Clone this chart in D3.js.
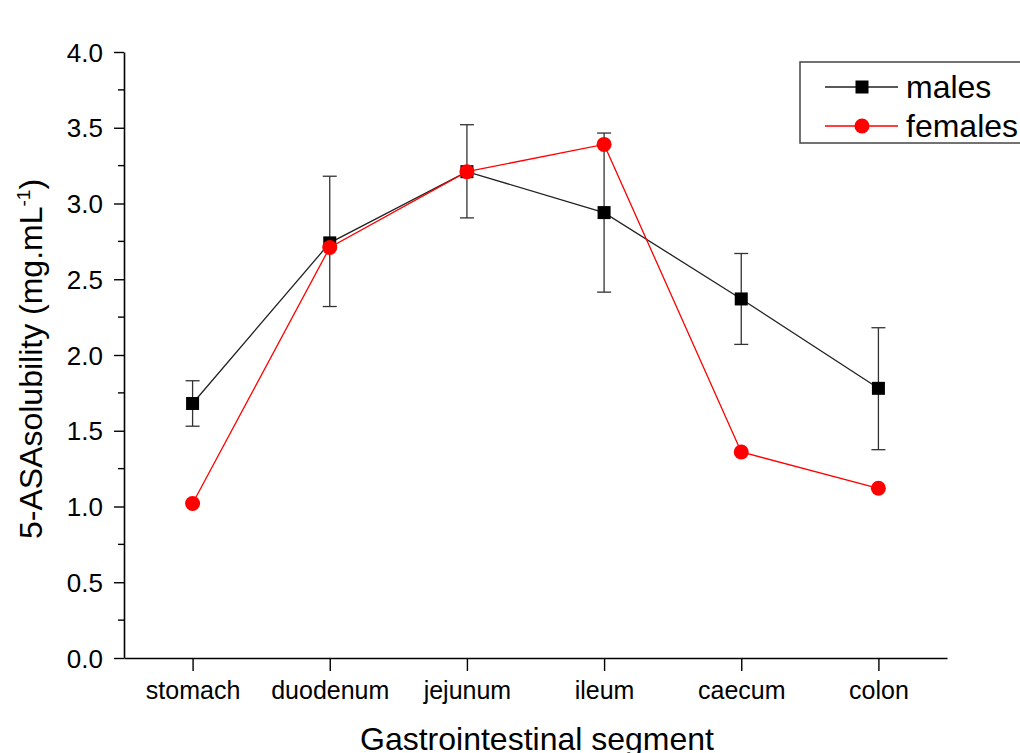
<!DOCTYPE html>
<html>
<head>
<meta charset="utf-8">
<script src="https://cdn.jsdelivr.net/npm/d3@7"></script>
<style>
  body { margin: 0; background: #fff; }
  text { font-family: "Liberation Sans", Arial, sans-serif; fill: #000; }
</style>
</head>
<body>
<script>
// segments along the gut
var segments = ["stomach", "duodenum", "jejunum", "ileum", "caecum", "colon"];
// males: mean and error bar ends
var males = [1.68, 2.74, 3.21, 2.94, 2.37, 1.78];
var malesHigh = [1.83, 3.18, 3.52, 3.465, 2.67, 2.18];
var malesLow = [1.53, 2.32, 2.905, 2.415, 2.07, 1.375];
// females: mean only
var females = [1.02, 2.71, 3.21, 3.39, 1.36, 1.12];
var yTicks = [0, 0.5, 1, 1.5, 2, 2.5, 3, 3.5, 4];
var yMinor = [0.25, 0.75, 1.25, 1.75, 2.25, 2.75, 3.25, 3.75];

var width = 1020, height = 753;
var plotLeft = 124, plotRight = 947, plotTop = 52, plotBottom = 658;

var svg = d3.select("body").append("svg")
  .attr("width", width)
  .attr("height", height);

var x = d3.scalePoint()
  .domain(segments)
  .range([plotLeft, plotRight])
  .padding(0.5);

var y = d3.scaleLinear()
  .domain([0, 4])
  .range([plotBottom, plotTop]);

// y axis
var yAxis = svg.append("g")
  .attr("transform", "translate(" + plotLeft + ",0)")
  .call(d3.axisLeft(y).tickValues(yTicks).tickFormat(d3.format(".1f")).tickSize(10).tickSizeOuter(0));
yAxis.selectAll("text").style("font-size", "26px").attr("x", -21).attr("dy", "0.35em");
yAxis.select(".domain").attr("stroke-width", 1.6);
yAxis.selectAll(".tick line").attr("stroke-width", 1.4);
yAxis.selectAll(".minor").data(yMinor).enter().append("line")
  .attr("class", "minor")
  .attr("x1", -6).attr("x2", 0)
  .attr("y1", function(d){ return y(d); })
  .attr("y2", function(d){ return y(d); })
  .attr("stroke", "#000").attr("stroke-width", 1.4);

// x axis
var xAxis = svg.append("g")
  .attr("transform", "translate(0," + plotBottom + ")")
  .call(d3.axisBottom(x).tickSize(13).tickSizeOuter(0));
xAxis.selectAll("text").style("font-size", "25px").attr("y", 41).attr("dy", 0);
xAxis.select(".domain").attr("stroke-width", 1.6);
xAxis.selectAll(".tick line").attr("stroke-width", 1.4);

// axis titles
svg.append("text")
  .attr("x", 537)
  .attr("y", 750)
  .attr("text-anchor", "middle")
  .style("font-size", "32px")
  .text("Gastrointestinal segment");

var yt = svg.append("text")
  .attr("transform", "translate(42,359) rotate(-90)")
  .attr("text-anchor", "middle")
  .style("font-size", "32px");
yt.append("tspan").text("5-ASAsolubility (mg.mL");
yt.append("tspan").attr("dy", -12).style("font-size", "19px").text("-1");
yt.append("tspan").attr("dy", 12).text(")");

var line = d3.line()
  .x(function(d, i){ return x(segments[i]); })
  .y(function(d){ return y(d); });

// error bars (males)
var eb = svg.append("g").attr("stroke", "#333").attr("stroke-width", 1.3);
segments.forEach(function(s, i){
  var cx = x(s);
  eb.append("line").attr("x1", cx).attr("x2", cx).attr("y1", y(malesHigh[i])).attr("y2", y(malesLow[i]));
  eb.append("line").attr("x1", cx - 7).attr("x2", cx + 7).attr("y1", y(malesHigh[i])).attr("y2", y(malesHigh[i]));
  eb.append("line").attr("x1", cx - 7).attr("x2", cx + 7).attr("y1", y(malesLow[i])).attr("y2", y(malesLow[i]));
});

// males line and squares
svg.append("path").datum(males)
  .attr("d", line).attr("fill", "none").attr("stroke", "#222").attr("stroke-width", 1.3);
svg.selectAll(".sq").data(males).enter().append("rect")
  .attr("class", "sq")
  .attr("x", function(d, i){ return x(segments[i]) - 6.5; })
  .attr("y", function(d){ return y(d) - 6.5; })
  .attr("width", 13).attr("height", 13)
  .attr("fill", "#000");

// females line and circles
svg.append("path").datum(females)
  .attr("d", line).attr("fill", "none").attr("stroke", "#ff0000").attr("stroke-width", 1.3);
svg.selectAll(".ci").data(females).enter().append("circle")
  .attr("class", "ci")
  .attr("cx", function(d, i){ return x(segments[i]); })
  .attr("cy", function(d){ return y(d); })
  .attr("r", 7.5)
  .attr("fill", "#ff0000");

// legend
var lg = svg.append("g");
lg.append("rect")
  .attr("x", 800).attr("y", 62).attr("width", 240).attr("height", 81)
  .attr("fill", "#fff").attr("stroke", "#444").attr("stroke-width", 1.5);
lg.append("line").attr("x1", 825).attr("x2", 898).attr("y1", 87).attr("y2", 87)
  .attr("stroke", "#222").attr("stroke-width", 1.3);
lg.append("rect").attr("x", 855.5).attr("y", 80.5).attr("width", 13).attr("height", 13).attr("fill", "#000");
lg.append("text").attr("x", 906).attr("y", 98).style("font-size", "32px").text("males");
lg.append("line").attr("x1", 825).attr("x2", 898).attr("y1", 126).attr("y2", 126)
  .attr("stroke", "#ff0000").attr("stroke-width", 1.3);
lg.append("circle").attr("cx", 862).attr("cy", 126).attr("r", 7.5).attr("fill", "#ff0000");
lg.append("text").attr("x", 906).attr("y", 137).style("font-size", "32px").text("females");
</script>
</body>
</html>
